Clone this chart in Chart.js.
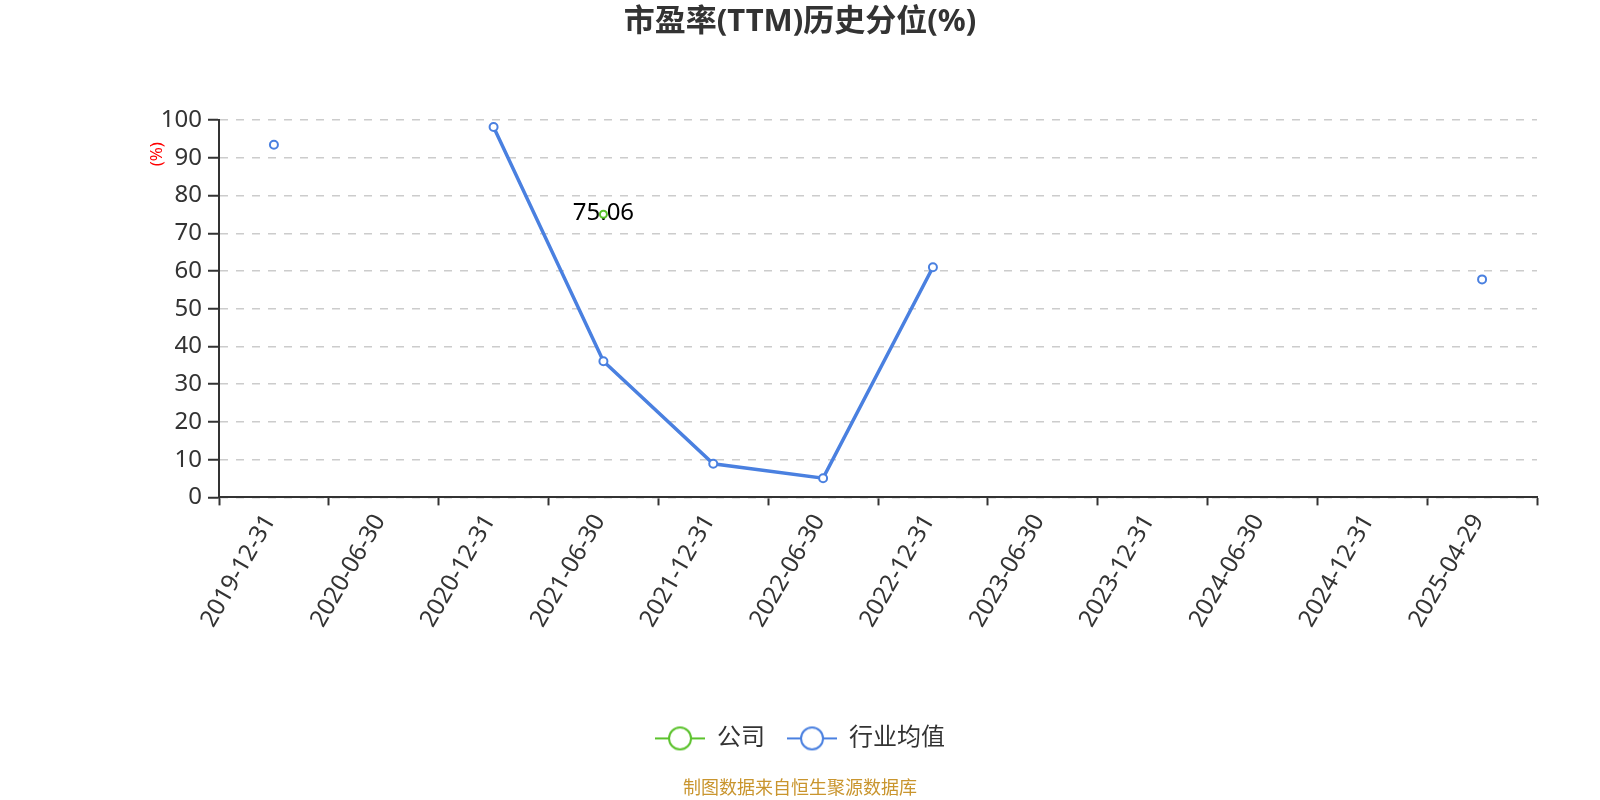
<!DOCTYPE html>
<html>
<head>
<meta charset="utf-8">
<script src="https://cdn.jsdelivr.net/npm/chart.js@4.4.1/dist/chart.umd.min.js"></script>
<style>
  html, body { margin: 0; background: #fff; }
  canvas { display: block; }
</style>
</head>
<body>
<canvas id="chart" width="1600" height="800"></canvas>
<script>
// ── Data ──────────────────────────────────────────────────────────────────────
const categories = [
  '2019-12-31', '2020-06-30', '2020-12-31', '2021-06-30', '2021-12-31', '2022-06-30',
  '2022-12-31', '2023-06-30', '2023-12-31', '2024-06-30', '2024-12-31', '2025-04-29',
];
const companyValues  = [null, null, null, 75.06, null, null, null, null, null, null, null, null];
const industryValues = [93.5, null, 98.2, 36.1, 8.9, 5.1, 61.0, null, null, null, null, 57.8];
const yMin = 0, yMax = 100, yStep = 10;

const seriesNames = ['公司', '行业均值'];
const GREEN = '#5bc22c';
const BLUE  = '#4a80e0';
const FONT  = "'Noto Sans', 'Noto Sans CJK SC', sans-serif";

// legend symbol: short line with a hollow circle (echarts style)
function legendIcon(color) {
  const c = document.createElement('canvas');
  c.width = 50; c.height = 28;
  const g = c.getContext('2d');
  g.strokeStyle = color;
  g.lineWidth = 2;
  g.beginPath(); g.moveTo(0, 14); g.lineTo(50, 14); g.stroke();
  g.fillStyle = '#fff';
  g.beginPath(); g.arc(25, 14, 11, 0, Math.PI * 2); g.fill(); g.stroke();
  return c;
}
const icons = [legendIcon(GREEN), legendIcon(BLUE)];

const extras = {
  id: 'extras',
  beforeDatasetsDraw(chart) {
    // value label for the company series, drawn under the point
    const ctx = chart.ctx;
    const meta = chart.getDatasetMeta(0);
    ctx.save();
    ctx.font = `24px ${FONT}`;
    ctx.fillStyle = '#000';
    ctx.textAlign = 'center';
    ctx.textBaseline = 'middle';
    meta.data.forEach((pt, i) => {
      const v = companyValues[i];
      if (v == null) return;
      ctx.fillText(v.toFixed(2), pt.x, pt.y - 1);
    });
    ctx.restore();
  },
  afterDraw(chart) {
    const { ctx, chartArea } = chart;
    ctx.save();
    ctx.translate(chartArea.left - 62, chartArea.top + 34);
    ctx.rotate(-Math.PI / 2);
    ctx.font = `17px ${FONT}`;
    ctx.fillStyle = '#ff0000';
    ctx.textAlign = 'center';
    ctx.textBaseline = 'middle';
    ctx.fillText('(%)', 0, 0);
    ctx.restore();
  },
};

new Chart(document.getElementById('chart'), {
  type: 'line',
  data: {
    labels: categories,
    datasets: [
      {
        label: seriesNames[0],
        data: companyValues,
        borderColor: GREEN,
        backgroundColor: '#fff',
        borderWidth: 3.5,
        pointRadius: 3.5,
        pointBorderWidth: 2,
        pointBorderColor: GREEN,
        pointBackgroundColor: '#fff',
        spanGaps: false,
        tension: 0,
      },
      {
        label: seriesNames[1],
        data: industryValues,
        borderColor: BLUE,
        backgroundColor: '#fff',
        borderWidth: 3.5,
        pointRadius: 4,
        pointBorderWidth: 2,
        pointBorderColor: BLUE,
        pointBackgroundColor: '#fff',
        spanGaps: false,
        tension: 0,
      },
    ],
  },
  options: {
    responsive: false,
    animation: false,
    layout: { padding: 0 },
    plugins: {
      tooltip: { enabled: false },
      title: {
        display: true,
        text: '市盈率(TTM)历史分位(%)',
        color: '#333',
        font: { family: FONT, size: 31, weight: 'bold' },
        padding: { top: 4, bottom: 79 },
      },
      subtitle: {
        display: true,
        position: 'bottom',
        text: '制图数据来自恒生聚源数据库',
        color: '#c9952e',
        font: { family: FONT, size: 18 },
        padding: { top: 18, bottom: 0 },
      },
      legend: {
        position: 'bottom',
        labels: {
          color: '#333',
          font: { family: FONT, size: 24 },
          usePointStyle: true,
          pointStyleWidth: 50,
          padding: 22,
          generateLabels(chart) {
            return Chart.defaults.plugins.legend.labels.generateLabels(chart)
              .map((l, i) => ({ ...l, pointStyle: icons[i], lineWidth: 0 }));
          },
        },
      },
    },
    scales: {
      x: {
        offset: true,
        grid: { drawOnChartArea: false, offset: true, tickLength: 8, tickColor: '#333', tickWidth: 2 },
        border: { color: '#333', width: 2 },
        ticks: {
          color: '#333',
          font: { family: FONT, size: 24 },
          maxRotation: 60,
          minRotation: 60,
          autoSkip: false,
          padding: 4,
          labelOffset: -4,
        },
        afterFit(scale) { scale.height = 207; },
      },
      y: {
        min: yMin,
        max: yMax,
        ticks: { stepSize: yStep, color: '#333', font: { family: FONT, size: 24 }, padding: 6 },
        grid: { color: '#cccccc', lineWidth: 1.5, tickLength: 11, tickColor: '#333', tickWidth: 2 },
        border: { color: '#333', width: 2, dash: [8, 8] },
        afterFit(scale) { scale.width = 219; },
      },
      // empty right-hand spacer so the plot ends where the reference does
      yRight: {
        position: 'right',
        min: yMin,
        max: yMax,
        ticks: { display: false },
        grid: { display: false },
        border: { display: false },
        afterFit(scale) { scale.width = 63; },
      },
    },
  },
  plugins: [extras],
});
</script>
</body>
</html>
